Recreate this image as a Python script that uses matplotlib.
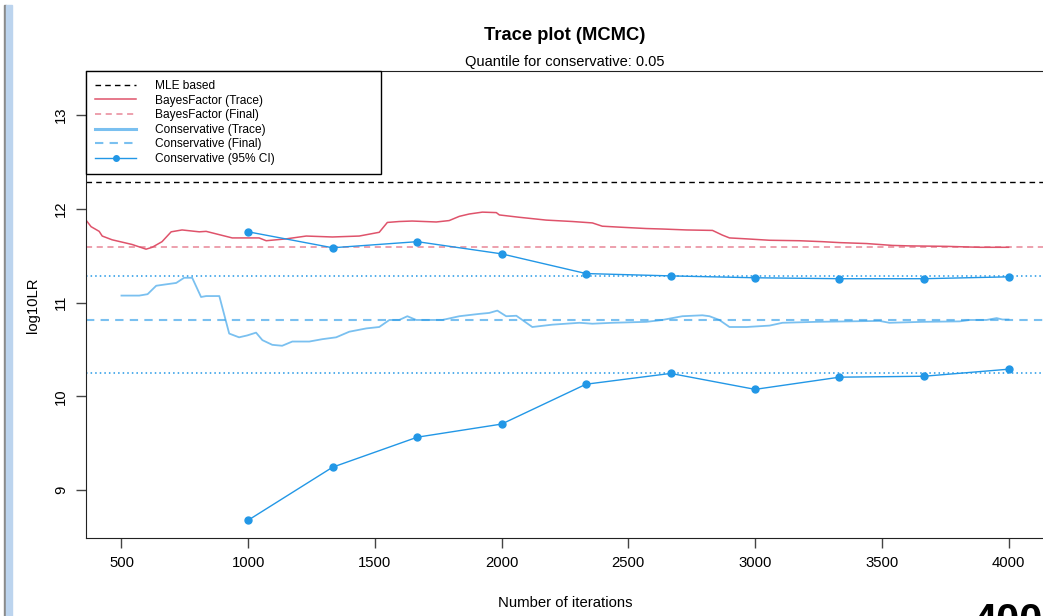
import matplotlib
matplotlib.use("Agg")
import matplotlib.pyplot as plt
from matplotlib.lines import Line2D
from matplotlib.patches import Rectangle

plt.rcParams['font.family'] = ['Liberation Sans', 'DejaVu Sans']

# --- data ---
bf_iter = [360, 380, 412, 424, 463, 542, 597, 621, 660, 696, 739, 807, 834, 937,
           1043, 1071, 1150, 1229, 1332, 1438, 1517, 1549, 1596, 1647, 1742, 1793,
           1833, 1872, 1924, 1979, 1991, 2070, 2176, 2279, 2358, 2397, 2464, 2571,
           2634, 2729, 2832, 2871, 2899, 2966, 3057, 3175, 3266, 3333, 3440, 3542,
           3609, 3755, 3886, 4000]
bf_trace = [11.88, 11.81, 11.76, 11.71, 11.67, 11.62, 11.57, 11.59, 11.65, 11.755,
            11.775, 11.755, 11.76, 11.69, 11.69, 11.66, 11.68, 11.71, 11.70, 11.71,
            11.75, 11.855, 11.865, 11.87, 11.86, 11.875, 11.92, 11.945, 11.965, 11.96,
            11.935, 11.91, 11.88, 11.865, 11.85, 11.815, 11.805, 11.79, 11.785, 11.775,
            11.77, 11.72, 11.69, 11.68, 11.665, 11.66, 11.65, 11.64, 11.63, 11.61,
            11.605, 11.60, 11.59, 11.59]

cons_iter = [500, 570, 603, 637, 676, 716, 747, 779, 814, 834, 886, 925, 964, 996,
             1031, 1056, 1095, 1134, 1174, 1241, 1292, 1347, 1399, 1466, 1517, 1557,
             1596, 1628, 1663, 1766, 1833, 1912, 1951, 1983, 2018, 2058, 2121, 2200,
             2307, 2358, 2437, 2571, 2634, 2713, 2792, 2820, 2859, 2899, 2966, 3057,
             3108, 3242, 3491, 3530, 3661, 3807, 3846, 3913, 3953, 3976, 4000]
cons_trace = [11.075, 11.075, 11.09, 11.18, 11.195, 11.21, 11.265, 11.265, 11.06, 11.07,
              11.07, 10.67, 10.63, 10.65, 10.68, 10.60, 10.55, 10.54, 10.585, 10.585,
              10.61, 10.63, 10.69, 10.725, 10.74, 10.815, 10.815, 10.855, 10.815, 10.815,
              10.855, 10.88, 10.89, 10.915, 10.855, 10.86, 10.74, 10.765, 10.785, 10.775,
              10.785, 10.795, 10.815, 10.855, 10.865, 10.855, 10.815, 10.74, 10.74, 10.755,
              10.785, 10.795, 10.805, 10.785, 10.795, 10.80, 10.815, 10.815, 10.835, 10.82,
              10.82]

ci_iter = [1000, 1333, 1667, 2000, 2333, 2667, 3000, 3333, 3667, 4000]
ci_upper = [11.755, 11.585, 11.65, 11.52, 11.31, 11.285, 11.265, 11.255, 11.255, 11.275]
ci_lower = [8.68, 9.245, 9.565, 9.705, 10.13, 10.245, 10.075, 10.205, 10.215, 10.29]

mle_value = 12.29
bf_final = 11.595
cons_final = 10.81
cons_ci_final = [11.285, 10.245]

RED = '#DF536B'
BLUE = '#2297E6'

fig = plt.figure(figsize=(10.43, 6.16), dpi=100)
ax = fig.add_axes([86 / 1043, 78 / 616, 958 / 1043, 467 / 616])

ax.axhline(mle_value, color='black', ls=(0, (4, 3)), lw=1)
ax.plot(bf_iter, bf_trace, color=RED, lw=1.1)
ax.axhline(bf_final, color=RED, alpha=0.7, ls=(0, (4, 3)), lw=1.1)
ax.plot(cons_iter, cons_trace, color=BLUE, alpha=0.6, lw=1.3)
ax.axhline(cons_final, color=BLUE, alpha=0.6, ls=(0, (4, 3)), lw=1.5)
for v in cons_ci_final:
    ax.axhline(v, color=BLUE, ls=(0, (1, 2)), lw=1.1)
ax.plot(ci_iter, ci_upper, color=BLUE, lw=1, marker='o', ms=5)
ax.plot(ci_iter, ci_lower, color=BLUE, lw=1, marker='o', ms=5)

ax.set_xlim(360, 4140)
ax.set_ylim(8.49, 13.47)
ax.set_xticks([500, 1000, 1500, 2000, 2500, 3000, 3500, 4000])
ax.set_yticks([9, 10, 11, 12, 13])
for s in ax.spines.values():
    s.set_color('#222222')
ax.tick_params(direction='out', length=7, width=1, color='#444444',
               labelsize=10.7, pad=6)
for lab in ax.get_yticklabels():
    lab.set_rotation(90)
    lab.set_va('center')

fig.text(33 / 1043, 1 - 305 / 616, 'log10LR', rotation=90, ha='center',
         va='center', fontsize=10.7)
fig.text(565 / 1043, 1 - 603 / 616, 'Number of iterations', ha='center',
         va='center', fontsize=10.7)
fig.text(565 / 1043, 1 - 35 / 616, 'Trace plot (MCMC)', ha='center', va='center',
         fontsize=13.2, fontweight='bold')
fig.text(565 / 1043, 1 - 62 / 616, 'Quantile for conservative: 0.05', ha='center',
         va='center', fontsize=10.5)

handles = [
    Line2D([], [], color='black', ls=(0, (4, 3)), lw=1),
    Line2D([], [], color=RED, lw=1.1),
    Line2D([], [], color=RED, alpha=0.7, ls=(0, (4, 3)), lw=1.1),
    Line2D([], [], color=BLUE, alpha=0.6, lw=2.2),
    Line2D([], [], color=BLUE, alpha=0.6, ls=(0, (4, 3)), lw=1.5),
    Line2D([], [], color=BLUE, lw=1, marker='o', ms=4),
]
labels = ['MLE based', 'BayesFactor (Trace)', 'BayesFactor (Final)',
          'Conservative (Trace)', 'Conservative (Final)', 'Conservative (95% CI)']
leg = ax.legend(handles, labels, loc='upper left',
                bbox_to_anchor=(0, 1, 295 / 958, 0), mode='expand',
                borderaxespad=0, fancybox=False, framealpha=1,
                edgecolor='black', fontsize=8.6, handlelength=3.45,
                handletextpad=1.6, labelspacing=0.22, borderpad=0.75)
leg.get_frame().set_linewidth(1)

# screenshot leftovers: side bar and cut-off large label
fig.patches.append(Rectangle((4 / 1043, 0), 2 / 1043, 611 / 616,
                             transform=fig.transFigure, color='#8a8a8a'))
fig.patches.append(Rectangle((6 / 1043, 0), 6 / 1043, 611 / 616,
                             transform=fig.transFigure, color='#bcd4ee'))
fig.text(973 / 1043, -17 / 616, '4000', fontsize=30, fontweight='bold',
         ha='left', va='baseline')

fig.savefig('out.png', dpi=100)
